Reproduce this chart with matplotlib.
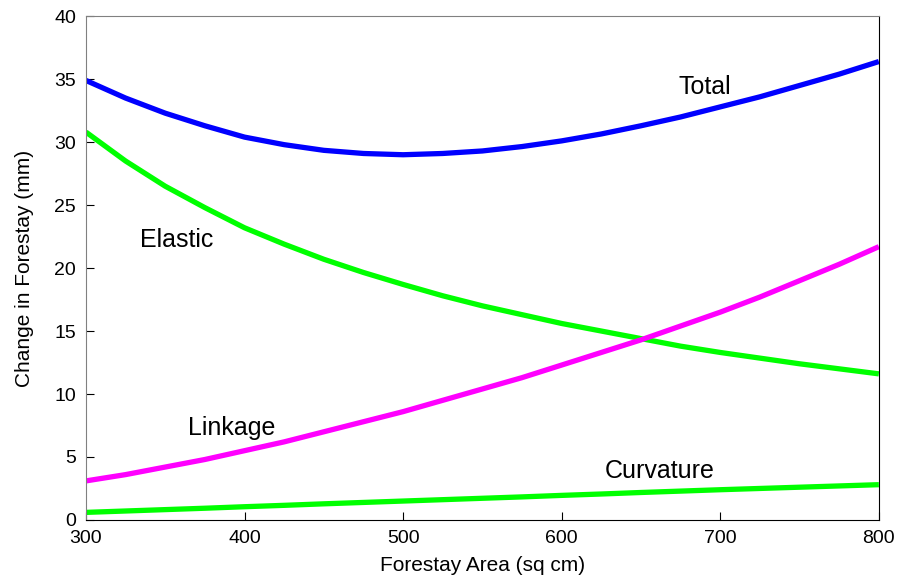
import matplotlib
matplotlib.use('Agg')
import matplotlib.pyplot as plt

area = [300, 325, 350, 375, 400, 425, 450, 475, 500, 525, 550, 575,
        600, 625, 650, 675, 700, 725, 750, 775, 800]
total = [34.9, 33.5, 32.3, 31.3, 30.4, 29.8, 29.35, 29.1, 29.0, 29.1, 29.3, 29.65,
         30.1, 30.65, 31.3, 32.0, 32.8, 33.6, 34.5, 35.4, 36.4]
elastic = [30.8, 28.5, 26.5, 24.8, 23.2, 21.9, 20.7, 19.65, 18.7, 17.8, 17.0, 16.3,
           15.6, 15.0, 14.4, 13.8, 13.3, 12.85, 12.4, 12.0, 11.6]
linkage = [3.1, 3.6, 4.2, 4.8, 5.5, 6.2, 7.0, 7.8, 8.6, 9.5, 10.4, 11.3,
           12.3, 13.3, 14.3, 15.4, 16.5, 17.7, 19.0, 20.3, 21.7]
curvature = [0.6, 0.71, 0.82, 0.93, 1.05, 1.16, 1.28, 1.39, 1.5, 1.61, 1.72, 1.83,
             1.95, 2.06, 2.18, 2.29, 2.4, 2.5, 2.6, 2.7, 2.8]

plt.rcParams['font.family'] = ['Liberation Sans', 'DejaVu Sans']

fig = plt.figure(figsize=(9.01, 5.79), dpi=100)
ax = fig.add_axes([0.0954, 0.102, 0.880, 0.870])

lw = 3.8
ax.plot(area, total, color='#0000ff', lw=lw, solid_capstyle='butt')
ax.plot(area, elastic, color='#00ff00', lw=lw, solid_capstyle='butt')
ax.plot(area, linkage, color='#ff00ff', lw=lw, solid_capstyle='butt')
ax.plot(area, curvature, color='#00ff00', lw=lw, solid_capstyle='butt')

ax.text(690, 34.4, 'Total', fontsize=18, ha='center', va='center')
ax.text(357, 22.2, 'Elastic', fontsize=18, ha='center', va='center')
ax.text(392, 7.3, 'Linkage', fontsize=18, ha='center', va='center')
ax.text(662, 3.85, 'Curvature', fontsize=18, ha='center', va='center')

ax.set_xlim(300, 800)
ax.set_ylim(0, 40)
ax.set_xticks([300, 400, 500, 600, 700, 800])
ax.set_yticks(range(0, 41, 5))
ax.tick_params(direction='in', length=6, labelsize=14, pad=7)
ax.spines['top'].set_color('#808080')
ax.spines['left'].set_color('#808080')

ax.set_xlabel('Forestay Area (sq cm)', fontsize=15, labelpad=7)
ax.set_ylabel('Change in Forestay (mm)', fontsize=15, labelpad=15)

fig.savefig('out.png', dpi=100)
